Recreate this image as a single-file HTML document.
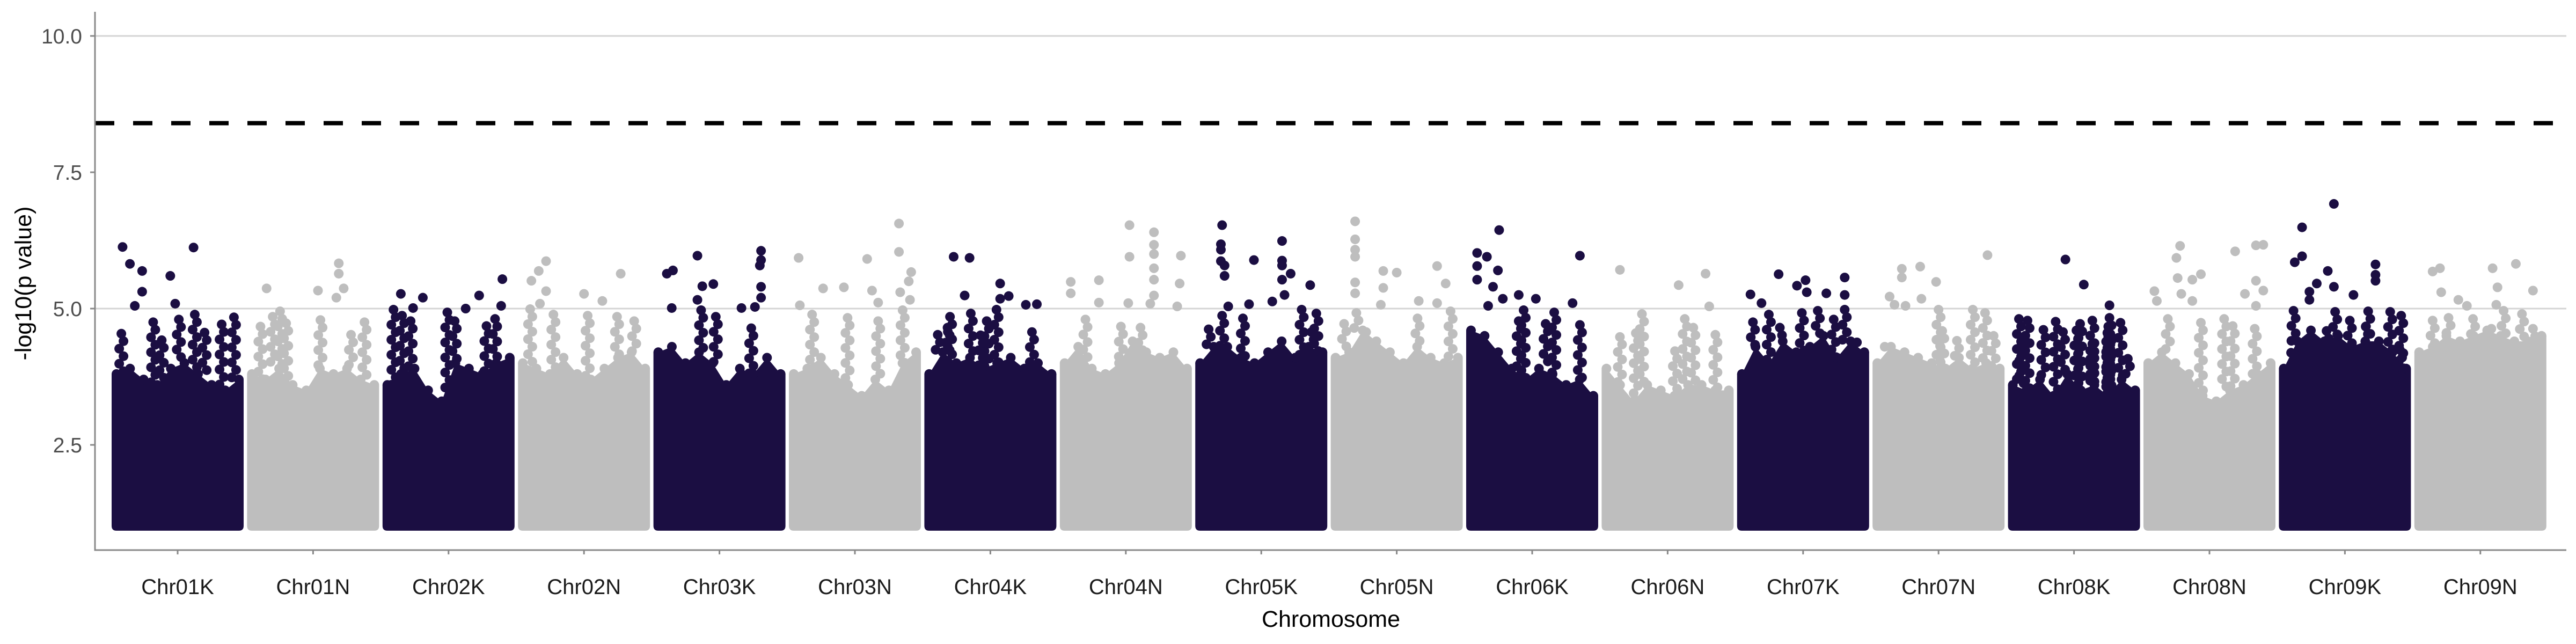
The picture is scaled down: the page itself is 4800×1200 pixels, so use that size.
<!DOCTYPE html>
<html><head><meta charset="utf-8"><style>
html,body{margin:0;padding:0;background:#fff;}
svg{display:block;font-family:"Liberation Sans",sans-serif;}
</style></head><body>
<svg id="chart" width="4800" height="1200" viewBox="0 0 4800 1200" xmlns="http://www.w3.org/2000/svg">
<g id="grid"></g>
<g id="marks"></g>
<g id="axes"></g>
</svg>
<script>
const chromosomes = ["Chr01K","Chr01N","Chr02K","Chr02N","Chr03K","Chr03N","Chr04K","Chr04N","Chr05K","Chr05N","Chr06K","Chr06N","Chr07K","Chr07N","Chr08K","Chr08N","Chr09K","Chr09N"];
const yTicks = [2.5, 5.0, 7.5, 10.0];
const yTickLabels = ["2.5","5.0","7.5","10.0"];
const gridValues = [5.0, 10.0];
const threshold = 8.4;
const minValue = 1.0;
// dense-mass upper envelope per chromosome (values sampled evenly along chromosome)
const envelope = [
[3.8,3.9,3.7,3.6,3.9,4.0,3.8,3.6,3.5,3.7],
[3.8,3.7,3.9,3.6,3.5,3.9,3.8,3.9,3.7,3.6],
[3.6,3.8,3.9,3.5,3.3,4.0,3.9,3.8,4.0,4.1],
[4.0,3.9,3.8,4.1,3.8,3.7,3.9,4.1,4.2,3.9],
[4.2,4.3,4.0,4.2,4.0,3.6,3.9,3.8,4.1,3.8],
[3.8,3.9,4.1,3.8,3.6,3.4,3.7,3.5,4.0,4.2],
[3.8,4.2,4.0,4.1,3.9,4.0,4.1,3.9,4.0,3.8],
[4.0,4.3,3.9,3.8,4.0,4.4,4.2,4.1,4.2,3.9],
[4.0,4.3,4.3,4.1,4.0,4.2,4.4,4.1,4.3,4.2],
[4.1,4.2,4.6,4.4,4.2,4.0,4.3,4.1,4.0,4.1],
[4.6,4.5,4.2,3.9,3.7,3.9,3.8,3.6,3.7,3.4],
[3.9,3.6,3.3,3.6,3.5,3.4,3.6,3.6,3.5,3.5],
[3.8,4.3,4.0,4.4,4.2,4.3,4.5,4.1,4.4,4.2],
[4.0,4.3,4.2,4.1,4.0,3.9,4.1,3.9,4.0,3.9],
[3.6,3.5,3.7,3.4,3.8,3.5,3.6,3.4,3.7,3.5],
[4.0,4.2,4.0,3.8,3.4,3.3,3.5,3.6,3.8,4.0],
[3.9,4.4,4.6,4.4,4.5,4.3,4.4,4.4,4.2,3.9],
[4.2,4.3,4.5,4.4,4.5,4.6,4.5,4.4,4.4,4.5]
];
// notable points per chromosome: [relative position, -log10(p)]
const topPoints = [
[[.05,6.13],[.11,5.82],[.21,5.69],[.44,5.6],[.63,6.12],[.21,5.31],[.48,5.09],[.15,5.05],[.64,4.89],[.96,4.84],[.86,4.71],[.04,4.54],[.3,4.75],[.37,4.42],[.72,4.56],[.51,4.8]],
[[.71,5.83],[.71,5.64],[.75,5.37],[.12,5.37],[.54,5.33],[.69,5.2],[.23,4.95],[.56,4.79],[.92,4.75],[.17,4.85],[.07,4.67],[.28,4.73],[.81,4.52]],
[[.11,5.27],[.29,5.2],[.75,5.24],[.94,5.54],[.05,4.98],[.21,5.01],[.64,5.0],[.12,4.87],[.19,4.77],[.55,4.77],[.81,4.68],[.93,5.05],[.49,4.93],[.88,4.81]],
[[.19,5.87],[.13,5.69],[.07,5.51],[.19,5.32],[.8,5.64],[.5,5.27],[.65,5.14],[.14,5.09],[.25,4.89],[.53,4.87],[.77,4.85],[.91,4.77],[.06,4.99]],
[[.32,5.97],[.12,5.7],[.07,5.64],[.36,5.41],[.45,5.45],[.84,6.06],[.84,5.89],[.83,5.79],[.84,5.4],[.84,5.2],[.11,5.01],[.32,5.16],[.68,5.01],[.79,5.03],[.47,4.85],[.35,4.97],[.76,4.64]],
[[.86,6.56],[.86,6.04],[.04,5.93],[.6,5.91],[.96,5.67],[.94,5.5],[.87,5.3],[.24,5.37],[.41,5.39],[.64,5.33],[.95,5.16],[.05,5.06],[.69,5.11],[.15,4.89],[.44,4.83],[.69,4.77],[.89,4.97]],
[[.2,5.95],[.33,5.93],[.29,5.24],[.58,5.46],[.65,5.23],[.58,5.18],[.55,4.98],[.79,5.07],[.88,5.08],[.17,4.85],[.34,4.91],[.47,4.77],[.15,4.65],[.07,4.52],[.84,4.57],[.42,4.51]],
[[.53,6.53],[.73,6.4],[.73,6.17],[.73,6.0],[.53,5.95],[.95,5.97],[.73,5.74],[.73,5.53],[.05,5.49],[.28,5.52],[.94,5.46],[.73,5.24],[.05,5.28],[.28,5.11],[.52,5.1],[.7,5.09],[.92,5.04],[.17,4.8],[.46,4.67],[.62,4.65]],
[[.18,6.53],[.17,6.18],[.17,6.08],[.17,5.87],[.2,5.79],[.2,5.6],[.67,6.24],[.67,5.88],[.67,5.79],[.74,5.64],[.67,5.53],[.44,5.89],[.9,5.43],[.69,5.25],[.59,5.13],[.4,5.08],[.23,5.04],[.83,4.98],[.95,4.91],[.18,4.87],[.35,4.82],[.91,4.57],[.07,4.62]],
[[.16,6.6],[.16,6.27],[.16,6.08],[.16,5.95],[.39,5.69],[.5,5.66],[.83,5.78],[.9,5.46],[.16,5.48],[.16,5.28],[.39,5.38],[.68,5.14],[.83,5.1],[.37,5.07],[.94,4.95],[.17,4.92],[.07,4.72],[.67,4.82],[.25,4.57]],
[[.23,6.44],[.05,6.02],[.13,5.95],[.89,5.97],[.22,5.7],[.05,5.78],[.05,5.53],[.18,5.4],[.26,5.18],[.39,5.25],[.53,5.18],[.83,5.1],[.14,5.05],[.43,4.97],[.68,4.93],[.89,4.7],[.39,4.77],[.61,4.72]],
[[.11,5.71],[.81,5.64],[.59,5.43],[.29,4.9],[.84,5.04],[.64,4.81],[.24,4.55],[.11,4.48],[.71,4.65],[.89,4.52],[.56,4.22]],
[[.3,5.63],[.52,5.52],[.84,5.57],[.45,5.42],[.69,5.28],[.07,5.26],[.53,5.3],[.16,5.1],[.84,5.25],[.62,4.96],[.22,4.89],[.09,4.75],[.75,4.8],[.31,4.65],[.49,4.92],[.94,4.38],[.84,4.98]],
[[.9,5.98],[.35,5.77],[.2,5.73],[.2,5.57],[.48,5.49],[.1,5.22],[.14,5.07],[.23,5.05],[.5,4.98],[.36,5.18],[.78,4.98],[.88,4.92],[.95,4.5],[.06,4.3],[.53,4.59],[.65,4.41]],
[[.43,5.9],[.58,5.44],[.79,5.06],[.79,4.83],[.88,4.74],[.05,4.81],[.12,4.78],[.35,4.76],[.55,4.72],[.65,4.78],[.78,4.67],[.25,4.61],[.41,4.57],[.52,4.6],[.65,4.35],[.78,4.48],[.07,4.32],[.94,4.08]],
[[.26,6.15],[.23,5.93],[.71,6.05],[.88,6.16],[.94,6.17],[.24,5.56],[.36,5.53],[.43,5.63],[.88,5.51],[.94,5.33],[.05,5.32],[.27,5.27],[.79,5.27],[.07,5.14],[.36,5.14],[.88,5.05],[.16,4.81],[.43,4.74],[.62,4.81],[.87,4.63],[.69,4.68]],
[[.41,6.92],[.15,6.49],[.15,5.96],[.09,5.85],[.36,5.69],[.75,5.81],[.75,5.62],[.75,5.51],[.27,5.46],[.41,5.4],[.57,5.25],[.21,5.31],[.21,5.16],[.08,4.96],[.42,4.94],[.69,4.95],[.87,4.94],[.96,4.87],[.54,4.78],[.67,4.67],[.35,4.59],[.06,4.19],[.95,4.24]],
[[.17,5.74],[.11,5.68],[.6,5.74],[.79,5.82],[.64,5.39],[.18,5.3],[.93,5.33],[.32,5.16],[.39,5.05],[.63,5.07],[.69,4.96],[.84,4.9],[.24,4.83],[.11,4.78],[.44,4.81],[.59,4.63],[.93,4.63]]
];
const NS="http://www.w3.org/2000/svg";
const plotL=177, plotR=4782, axisY=1025;
const chrStart=208, chrPitch=252.4, chrWidth=246, R=9;
const colors=["#1b0e42","#bebebe"];
function yScale(v){return 575-(v-5)*101.6;}
function xScale(i,f){return chrStart+i*chrPitch+R+f*(chrWidth-2*R);}
function mk(tag,attrs,parent){const e=document.createElementNS(NS,tag);for(const k in attrs)e.setAttribute(k,attrs[k]);parent.appendChild(e);return e;}
const grid=document.getElementById('grid'),marks=document.getElementById('marks'),axes=document.getElementById('axes');
gridValues.forEach(v=>{
  const l=mk('line',{x1:plotL,x2:plotR,y1:yScale(v),y2:yScale(v),stroke:'#d4d4d4','stroke-width':3},grid);
  
  
});
chromosomes.forEach((c,i)=>{
  const g=mk('g',{fill:colors[i%2]},marks);
  
  
  const env=envelope[i], n=env.length;
  const bottom=yScale(minValue)+7.5, x0=chrStart+i*chrPitch, x1=x0+chrWidth;
  let d='M'+x0+','+(yScale(env[0]));
  env.forEach((v,k)=>{d+=' L'+xScale(i,k/(n-1))+','+yScale(v);});
  d+=' L'+x1+','+yScale(env[n-1])+' L'+x1+','+(bottom-9)+' Q'+x1+','+bottom+' '+(x1-9)+','+bottom+' L'+(x0+9)+','+bottom+' Q'+x0+','+bottom+' '+x0+','+(bottom-9)+' Z';
  const p=mk('path',{d:d},g);
  
  
  env.forEach((v,k)=>{
    const cc=mk('circle',{cx:xScale(i,k/(n-1)),cy:yScale(v),r:R},g);
    
    
  });
  topPoints[i].forEach(pt=>{
    const cx=xScale(i,pt[0]), cy=yScale(pt[1]);
    if(pt[1]<5.0){
      // dense stack of points beneath a spike, down to the mass
      const base=yScale(env[Math.round(pt[0]*(n-1))]);
      for(let y=cy+14;y<base;y+=14){
        const s=mk('circle',{cx:cx+((Math.round((y-cy)/14)%2)?4:-4),cy:y,r:R},g);
        
        
      }
    }
    const cc=mk('circle',{cx:cx,cy:cy,r:R},g);
    
    
  });
});
const th=mk('line',{x1:plotL,x2:plotR,y1:yScale(threshold),y2:yScale(threshold),stroke:'#000','stroke-width':8,'stroke-dasharray':'36 35'},marks);


const ya=mk('line',{x1:plotL,x2:plotL,y1:22,y2:axisY+1.5,stroke:'#888','stroke-width':3},axes);


const xa=mk('line',{x1:plotL-1.5,x2:plotR,y1:axisY,y2:axisY,stroke:'#888','stroke-width':3},axes);


yTicks.forEach((v,k)=>{
  const t=mk('line',{x1:plotL-9,x2:plotL,y1:yScale(v),y2:yScale(v),stroke:'#888','stroke-width':3},axes);
  
  
  const tx=mk('text',{x:153,y:yScale(v)+14,'text-anchor':'end','font-size':39,fill:'#4d4d4d'},axes);
  tx.textContent=yTickLabels[k];
  
  
});
chromosomes.forEach((c,i)=>{
  const cx=chrStart+i*chrPitch+chrWidth/2;
  const t=mk('line',{x1:cx,x2:cx,y1:axisY,y2:axisY+8,stroke:'#888','stroke-width':3},axes);
  
  
  const tx=mk('text',{x:cx,y:1107,'text-anchor':'middle','font-size':40,fill:'#1a1a1a'},axes);
  tx.textContent=c;
  
  
});
</script>
<svg style="position:absolute;left:0;top:0" width="4800" height="1200">
<text x="2480" y="1168" text-anchor="middle" font-size="43" fill="#000" font-family="Liberation Sans, sans-serif">Chromosome</text>
<text x="0" y="0" transform="translate(58,528) rotate(-90)" text-anchor="middle" font-size="43" fill="#000" font-family="Liberation Sans, sans-serif">-log10(p value)</text>
</svg>
</body></html>
